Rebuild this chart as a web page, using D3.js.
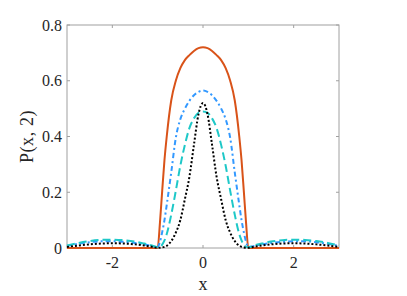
<!DOCTYPE html>
<html>
<head>
<meta charset="utf-8">
<script src="https://cdn.jsdelivr.net/npm/d3@7"></script>
<style>
  body { margin: 0; background: #fff; }
  svg text { font-family: "Liberation Serif", "DejaVu Serif", serif; fill: #262626; }
</style>
</head>
<body>
<svg id="chart"></svg>
<script>
// x grid shared by all curves
const xValues = [-3, -2.75, -2.5, -2.25, -2, -1.75, -1.5, -1.3, -1.15, -1, -0.95, -0.9, -0.85, -0.8, -0.7, -0.6, -0.5, -0.4, -0.3, -0.2, -0.1,
  0, 0.1, 0.2, 0.3, 0.4, 0.5, 0.6, 0.7, 0.8, 0.85, 0.9, 0.95, 1, 1.15, 1.3, 1.5, 1.75, 2, 2.25, 2.5, 2.75, 3];

// red solid
const redValues = [0, 0, 0, 0, 0, 0, 0, 0, 0, 0, 0.09, 0.205, 0.315, 0.4, 0.53, 0.6, 0.645, 0.674, 0.692, 0.707, 0.717,
  0.72, 0.717, 0.707, 0.692, 0.674, 0.645, 0.6, 0.53, 0.4, 0.315, 0.205, 0.09, 0, 0, 0, 0, 0, 0, 0, 0, 0, 0];

// blue dash-dot
const blueValues = [0.007, 0.015, 0.021, 0.024, 0.024, 0.022, 0.018, 0.013, 0.008, 0.004, 0.022, 0.057, 0.1, 0.155, 0.272, 0.395, 0.462, 0.5, 0.528, 0.548, 0.56,
  0.565, 0.56, 0.548, 0.528, 0.5, 0.462, 0.395, 0.272, 0.155, 0.1, 0.057, 0.022, 0.004, 0.008, 0.013, 0.018, 0.022, 0.024, 0.024, 0.021, 0.015, 0.007];

// cyan dashed
const cyanValues = [0.009, 0.018, 0.025, 0.029, 0.03, 0.028, 0.023, 0.016, 0.01, 0.003, 0.004, 0.012, 0.027, 0.05, 0.12, 0.205, 0.295, 0.37, 0.43, 0.465, 0.485,
  0.49, 0.485, 0.465, 0.43, 0.37, 0.295, 0.205, 0.12, 0.05, 0.027, 0.012, 0.004, 0.003, 0.01, 0.016, 0.023, 0.028, 0.03, 0.029, 0.025, 0.018, 0.009];

// black dotted
const blackValues = [0.004, 0.009, 0.013, 0.016, 0.017, 0.016, 0.013, 0.009, 0.005, 0.001, 0.001, 0.002, 0.004, 0.008, 0.025, 0.055, 0.1, 0.175, 0.255, 0.37, 0.48,
  0.52, 0.48, 0.37, 0.255, 0.175, 0.1, 0.055, 0.025, 0.008, 0.004, 0.002, 0.001, 0.001, 0.005, 0.009, 0.013, 0.016, 0.017, 0.016, 0.013, 0.009, 0.004];

const xTicks = [-2, 0, 2];
const yTicks = [0, 0.2, 0.4, 0.6, 0.8];

const width = 407, height = 296;
const margin = { left: 67, right: 68, top: 25, bottom: 48 };

const svg = d3.select("#chart").attr("width", width).attr("height", height);

const x = d3.scaleLinear().domain([-3, 3]).range([margin.left, width - margin.right]);
const y = d3.scaleLinear().domain([0, 0.8]).range([height - margin.bottom, margin.top]);

const axisColor = "#a0a0a0";
const tickLen = 3;

// box
svg.append("rect")
  .attr("x", x(-3)).attr("y", y(0.8))
  .attr("width", x(3) - x(-3)).attr("height", y(0) - y(0.8))
  .attr("fill", "none").attr("stroke", axisColor).attr("stroke-width", 1);

// ticks (inward, mirrored on top and right)
xTicks.forEach((t) => {
  svg.append("line").attr("x1", x(t)).attr("x2", x(t)).attr("y1", y(0)).attr("y2", y(0) - tickLen).attr("stroke", axisColor);
  svg.append("line").attr("x1", x(t)).attr("x2", x(t)).attr("y1", y(0.8)).attr("y2", y(0.8) + tickLen).attr("stroke", axisColor);
  svg.append("text").attr("x", x(t)).attr("y", y(0) + 20).attr("text-anchor", "middle")
    .attr("font-size", 16).text(t < 0 ? "-" + Math.abs(t) : t);
});
yTicks.forEach((t) => {
  svg.append("line").attr("x1", x(-3)).attr("x2", x(-3) + tickLen).attr("y1", y(t)).attr("y2", y(t)).attr("stroke", axisColor);
  svg.append("line").attr("x1", x(3)).attr("x2", x(3) - tickLen).attr("y1", y(t)).attr("y2", y(t)).attr("stroke", axisColor);
  svg.append("text").attr("x", x(-3) - 5).attr("y", y(t)).attr("dy", "0.35em").attr("text-anchor", "end")
    .attr("font-size", 16).text(t === 0 ? "0" : t.toFixed(1));
});

// axis labels
svg.append("text").attr("x", x(0)).attr("y", 290).attr("text-anchor", "middle").attr("font-size", 18).text("x");
svg.append("text").attr("transform", "translate(33," + y(0.4) + ") rotate(-90)")
  .attr("text-anchor", "middle").attr("font-size", 18).attr("letter-spacing", 0.6).text("P(x, 2)");

const line = d3.line().curve(d3.curveMonotoneX);

const series = [
  { values: redValues, color: "#d95319", dash: null },
  { values: blueValues, color: "#3399ff", dash: "5,3,2,3" },
  { values: cyanValues, color: "#1ec8c8", dash: "8,4" },
  { values: blackValues, color: "#000000", dash: "2,2" },
];

series.forEach((s) => {
  svg.append("path")
    .attr("d", line(xValues.map((xv, i) => [x(xv), y(s.values[i])])))
    .attr("fill", "none")
    .attr("stroke", s.color)
    .attr("stroke-width", 2)
    .attr("stroke-dasharray", s.dash);
});
</script>
</body>
</html>
